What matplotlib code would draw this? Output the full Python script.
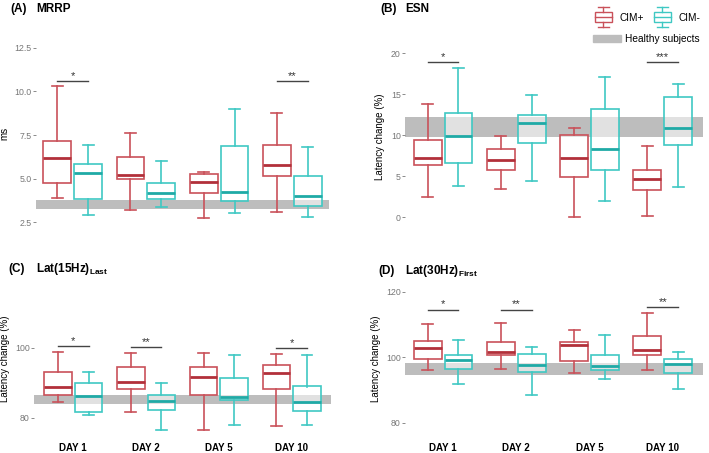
import numpy as np
import matplotlib
matplotlib.use("Agg")
import matplotlib.pyplot as plt
from matplotlib.lines import Line2D
from matplotlib.patches import Rectangle, Patch
from matplotlib.legend_handler import HandlerBase

plt.rcParams['font.family'] = ['Liberation Sans', 'DejaVu Sans']
plt.rcParams['mathtext.fontset'] = 'custom'
plt.rcParams['mathtext.bf'] = 'Liberation Sans:bold'
plt.rcParams['mathtext.rm'] = 'Liberation Sans'

days = ['DAY 1', 'DAY 2', 'DAY 5', 'DAY 10']

# box stats per day: (low whisker, Q1, median, Q3, high whisker)
mrrp_pos = [(3.9, 4.75, 6.2, 7.15, 10.3), (3.2, 4.95, 5.2, 6.25, 7.6),
            (2.75, 4.15, 4.8, 5.25, 5.4), (3.1, 5.15, 5.75, 6.95, 8.75)]
mrrp_neg = [(2.9, 3.85, 5.3, 5.85, 6.95), (3.35, 3.8, 4.15, 4.75, 6.0),
            (3.0, 3.7, 4.2, 6.85, 9.0), (2.8, 3.4, 4.0, 5.15, 6.8)]
esn_pos = [(2.5, 6.3, 7.2, 9.4, 13.8), (3.4, 5.8, 7.0, 8.35, 9.9),
           (0.05, 4.85, 7.25, 10.06, 10.9), (0.1, 3.3, 4.65, 5.7, 8.7)]
esn_neg = [(3.8, 6.6, 9.9, 12.7, 18.2), (4.4, 9.0, 11.5, 12.5, 14.9),
           (1.9, 5.7, 8.3, 13.2, 17.15), (3.7, 8.85, 10.9, 14.7, 16.25)]
lat15_pos = [(84.6, 86.5, 88.8, 93.1, 99.0), (81.7, 88.3, 90.3, 94.5, 98.6),
             (76.7, 86.5, 91.6, 94.6, 98.6), (77.7, 88.2, 92.8, 95.2, 98.2)]
lat15_neg = [(81.0, 81.7, 86.2, 90.1, 93.1), (76.7, 82.4, 84.9, 86.6, 90.1),
             (77.9, 85.1, 86.0, 91.5, 98.1), (78.1, 82.1, 84.6, 89.0, 98.1)]
lat30_pos = [(96.1, 99.5, 102.7, 104.8, 110.2), (96.2, 100.5, 101.6, 104.7, 110.5),
             (95.0, 98.7, 103.6, 104.7, 108.2), (96.0, 100.7, 102.0, 106.3, 113.4)]
lat30_neg = [(91.9, 96.3, 99.1, 100.6, 105.1), (88.5, 95.5, 97.7, 100.9, 103.0),
             (93.2, 96.0, 97.4, 100.6, 106.8), (90.2, 95.1, 98.0, 99.4, 101.4)]

# healthy subjects range
healthy = {'A': (3.27, 3.78), 'B': (9.75, 12.2), 'C': (83.9, 86.6), 'D': (94.5, 98.1)}

# significance: (day index, height, stars)
sig_A = [(0, 10.58, '*'), (3, 10.58, '**')]
sig_B = [(0, 18.9, '*'), (3, 18.9, '***')]
sig_C = [(0, 100.6, '*'), (1, 100.2, '**'), (3, 100.0, '*')]
sig_D = [(0, 114.5, '*'), (1, 114.5, '**'), (3, 115.2, '**')]

red = '#C9515A'
red_dark = '#B2303A'
teal = '#3FC8C3'
teal_dark = '#1FAAA6'
band_col = '#BDBDBD'

W, H = 709, 453
fig = plt.figure(figsize=(W / 100, H / 100), dpi=100)


def px_axes(x0, y0, x1, y1):
    return fig.add_axes([x0 / W, 1 - y1 / H, (x1 - x0) / W, (y1 - y0) / H])


def draw_box(ax, x, st, col, dcol, w=0.38):
    lo, q1, med, q3, hi = st
    ax.add_patch(Rectangle((x - w / 2, q1), w, q3 - q1, facecolor=(1, 1, 1, 0.55),
                           edgecolor=col, lw=1.2, zorder=3))
    ax.plot([x - w / 2, x + w / 2], [med, med], color=dcol, lw=2.0, zorder=4,
            solid_capstyle='butt')
    ax.plot([x, x], [q3, hi], color=col, lw=1.2, zorder=3)
    ax.plot([x, x], [lo, q1], color=col, lw=1.2, zorder=3)
    cw = 0.075
    ax.plot([x - cw, x + cw], [hi, hi], color=col, lw=1.2, zorder=3)
    ax.plot([x - cw, x + cw], [lo, lo], color=col, lw=1.2, zorder=3)


def panel(ax, pos, neg, band, sigs, ylim, yticks, ylabel, xlim, show_x):
    ax.axhspan(band[0], band[1], color=band_col, lw=0, zorder=1)
    xs = np.arange(1, len(days) + 1)
    for i, x in enumerate(xs):
        draw_box(ax, x - 0.21, pos[i], red, red_dark)
        draw_box(ax, x + 0.21, neg[i], teal, teal_dark)
    for d, y, s in sigs:
        x = xs[d]
        ax.plot([x - 0.21, x + 0.21], [y, y], color='#444444', lw=1.0, zorder=4)
        ax.text(x, y, s, ha='center', va='bottom', fontsize=8, color='#333333')
    ax.set_xlim(*xlim)
    ax.set_ylim(*ylim)
    ax.set_yticks(yticks)
    ax.set_yticklabels([str(t) for t in yticks])
    ax.tick_params(axis='y', length=2, width=0.6, color='#777777', labelcolor='#777777',
                   labelsize=6.3, pad=1)
    ax.set_ylabel(ylabel, fontsize=7, labelpad=4)
    if show_x:
        ax.set_xticks(xs)
        ax.set_xticklabels(days, fontweight='bold', fontsize=7)
        ax.tick_params(axis='x', length=0, pad=8)
    else:
        ax.set_xticks([])
    for sp in ax.spines.values():
        sp.set_visible(False)


axA = px_axes(36, 38, 329, 228)
panel(axA, mrrp_pos, mrrp_neg, healthy['A'], sig_A, (2.16, 13.07),
      [2.5, 5.0, 7.5, 10.0, 12.5], 'ms', (0.5, 4.5), False)
axB = px_axes(405, 45, 703, 228)
panel(axB, esn_pos, esn_neg, healthy['B'], sig_B, (-1.34, 21.0),
      [0, 5, 10, 15, 20], 'Latency change (%)', (0.48, 4.55), False)
axC = px_axes(34, 285, 331, 432)
panel(axC, lat15_pos, lat15_neg, healthy['C'], sig_C, (76.0, 118.0),
      [80, 100], 'Latency change (%)', (0.46, 4.54), True)
axD = px_axes(405, 285, 703, 432)
panel(axD, lat30_pos, lat30_neg, healthy['D'], sig_D, (77.1, 122.0),
      [80, 100, 120], 'Latency change (%)', (0.48, 4.55), True)

# panel titles
fig.text(10 / W, 1 - 9 / H, '(A)', fontsize=8.5, fontweight='bold', va='center')
fig.text(36 / W, 1 - 9 / H, 'MRRP', fontsize=8.5, fontweight='bold', va='center')
fig.text(380 / W, 1 - 9 / H, '(B)', fontsize=8.5, fontweight='bold', va='center')
fig.text(405 / W, 1 - 9 / H, 'ESN', fontsize=8.5, fontweight='bold', va='center')
fig.text(8 / W, 1 - 269 / H, '(C)', fontsize=8.5, fontweight='bold', va='center')
fig.text(36 / W, 1 - 269 / H, r'$\mathbf{Lat(15Hz)}_{\mathbf{Last}}$', fontsize=8.5, va='center')
fig.text(378 / W, 1 - 271 / H, '(D)', fontsize=8.5, fontweight='bold', va='center')
fig.text(405 / W, 1 - 271 / H, r'$\mathbf{Lat(30Hz)}_{\mathbf{First}}$', fontsize=8.5, va='center')


class BoxHandler(HandlerBase):
    def create_artists(self, legend, orig_handle, xdescent, ydescent, width, height,
                       fontsize, trans):
        col = orig_handle.get_color()
        x0 = -xdescent
        y0 = -ydescent
        cx = x0 + width / 2
        bw = width * 0.9
        arts = [
            Rectangle((cx - bw / 2, y0 + height * 0.15), bw, height * 0.7,
                      facecolor='white', edgecolor=col, lw=1.0, transform=trans),
            Line2D([cx - bw / 2, cx + bw / 2], [y0 + height * 0.5] * 2, color=col, lw=1.0,
                   transform=trans),
            Line2D([cx, cx], [y0 - height * 0.2, y0 + height * 0.15], color=col, lw=1.0,
                   transform=trans),
            Line2D([cx, cx], [y0 + height * 0.85, y0 + height * 1.2], color=col, lw=1.0,
                   transform=trans),
            Line2D([cx - bw * 0.3, cx + bw * 0.3], [y0 - height * 0.2] * 2, color=col,
                   lw=1.0, transform=trans),
            Line2D([cx - bw * 0.3, cx + bw * 0.3], [y0 + height * 1.2] * 2, color=col,
                   lw=1.0, transform=trans),
        ]
        return arts


h_pos = Line2D([], [], color=red)
h_neg = Line2D([], [], color=teal)
leg1 = fig.legend([h_pos, h_neg], ['CIM+', 'CIM-'], handler_map={Line2D: BoxHandler()},
                  loc='upper right', bbox_to_anchor=(707 / W, 1 - 3 / H), ncol=2,
                  frameon=False, fontsize=7.3, handlelength=1.9, handleheight=1.8,
                  columnspacing=0.9, handletextpad=0.6, borderpad=0.2)
leg2 = fig.legend([Patch(color=band_col)], ['Healthy subjects'], loc='upper right',
                  bbox_to_anchor=(707 / W, 1 - 27 / H), frameon=False, fontsize=7.3,
                  handlelength=2.8, handleheight=0.6, handletextpad=0.4, borderpad=0.2)

fig.savefig('out.png', dpi=100)
